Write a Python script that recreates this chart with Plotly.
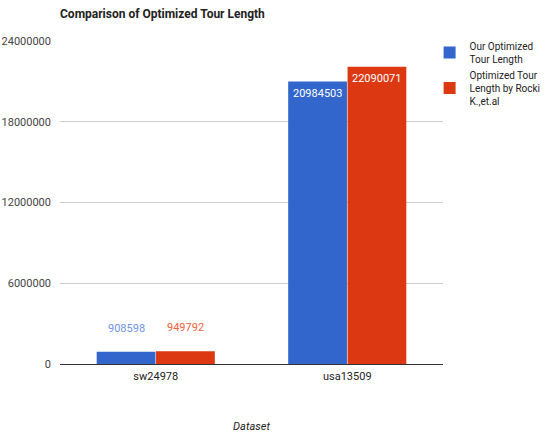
import plotly.graph_objects as go

# Data
datasets = ["sw24978", "usa13509"]
our_lengths = [908598, 20984503]
rocki_lengths = [949792, 22090071]
series_names = ["Our Optimized<br>Tour Length", "Optimized Tour<br>Length by Rocki<br>K.,et.al"]
y_ticks = [0, 6000000, 12000000, 18000000, 24000000]

BLUE = "#3366cc"
RED = "#dc3912"
FONT = "Liberation Sans Narrow, Arial Narrow, Roboto, Liberation Sans, Arial, sans-serif"

fig = go.Figure()
fig.add_bar(x=datasets, y=our_lengths, name=series_names[0], marker_color=BLUE,
            marker_line_width=0)
fig.add_bar(x=datasets, y=rocki_lengths, name=series_names[1], marker_color=RED,
            marker_line_width=0)

# Value labels: inside (white) for tall bars, above (tinted) for short ones
annotations = []
label_colors = {0: "#7094e6", 1: "#f0603c"}
for s, vals in enumerate([our_lengths, rocki_lengths]):
    for i, v in enumerate(vals):
        offset = -0.155 if s == 0 else 0.155
        if v > 5000000:
            annotations.append(dict(x=i + offset, y=v, xref="x", yref="y", text=str(v),
                                    showarrow=False, yanchor="top", yshift=-3,
                                    font=dict(color="white", size=11, family=FONT)))
        else:
            annotations.append(dict(x=i + offset, y=v, xref="x", yref="y", text=str(v),
                                    showarrow=False, yanchor="bottom", yshift=15,
                                    font=dict(color=label_colors[s], size=11, family=FONT)))

fig.update_layout(
    width=547, height=433,
    margin=dict(l=60, r=104, t=41, b=69, autoexpand=False),
    paper_bgcolor="white", plot_bgcolor="white",
    barmode="group", bargap=0.38, bargroupgap=0.01,
    font=dict(family=FONT, size=11, color="#444"),
    title=dict(text="<b>Comparison of Optimized Tour Length</b>", x=60 / 547, xanchor="left",
               y=1 - 14 / 433, yanchor="middle", font=dict(size=12, color="#222", family=FONT)),
    xaxis=dict(title=dict(text="<i>Dataset</i>", font=dict(size=11, color="#222"), standoff=44),
               tickfont=dict(size=11, color="#222"), showgrid=False, ticks="",
               ticklabelstandoff=4),
    yaxis=dict(range=[0, 24000000], tickvals=y_ticks, ticktext=[str(t) for t in y_ticks],
               showgrid=True, gridcolor="#cccccc", gridwidth=1,
               zeroline=True, zerolinecolor="#333333", zerolinewidth=1,
               tickfont=dict(size=11, color="#444"), ticks="", ticklabelstandoff=8),
    legend=dict(x=0.965, y=1.025, xanchor="left", yanchor="top", font=dict(size=10, color="#222"),
                tracegroupgap=8, itemwidth=30),
    annotations=annotations,
    showlegend=True,
)

fig.write_html("out.html")
